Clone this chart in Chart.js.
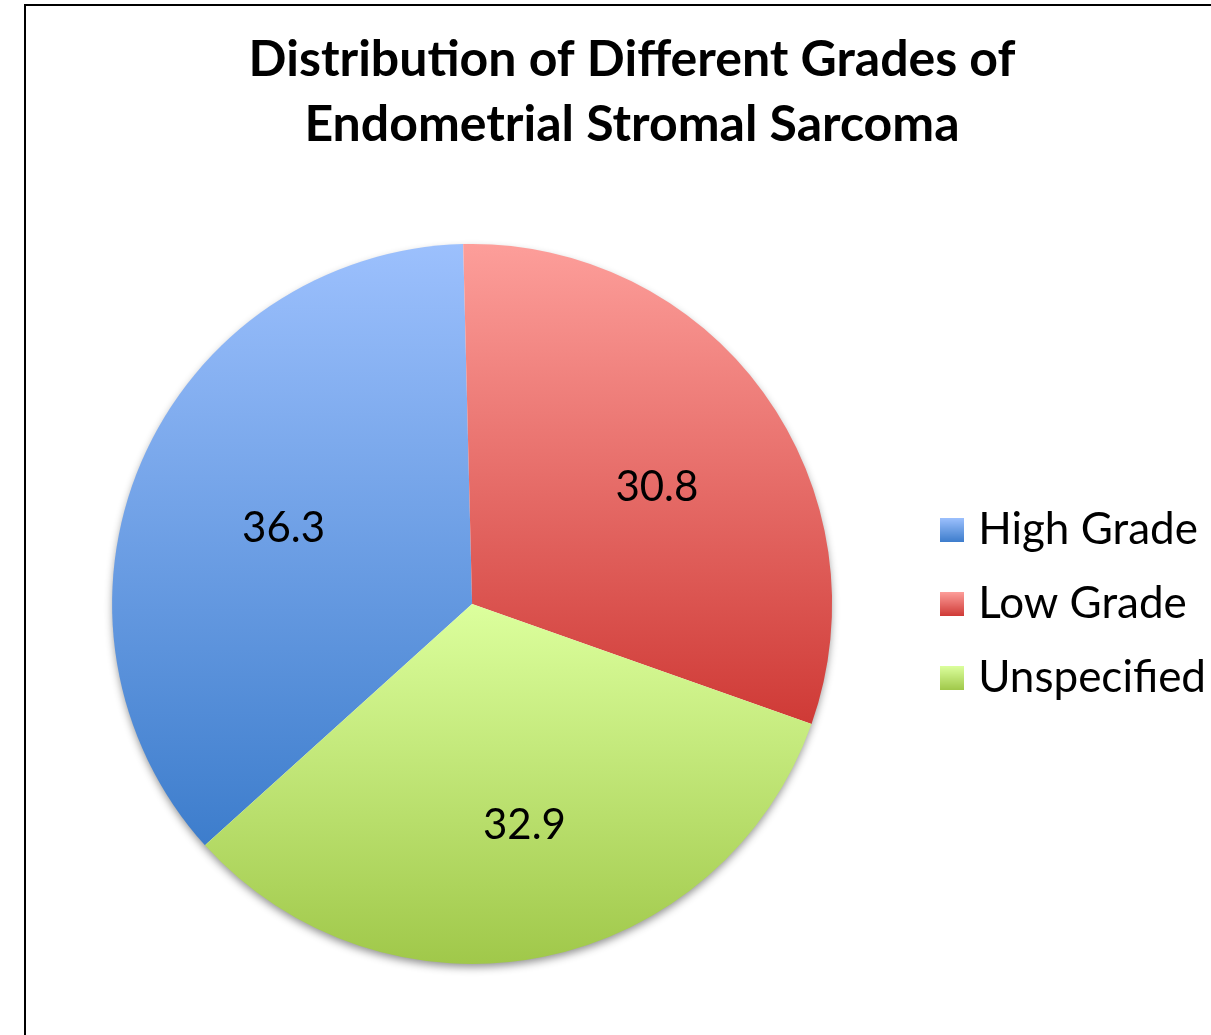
<!DOCTYPE html>
<html>
<head>
<meta charset="utf-8">
<script src="https://cdn.jsdelivr.net/npm/chart.js@4"></script>
<style>
  html, body { margin: 0; padding: 0; background: #fff; overflow: hidden; width: 1211px; height: 1035px; }
  #frame { position: absolute; left: 24px; top: 4px; width: 1212px; height: 1100px; border: 2px solid #000; background: #fff; }
  canvas { display: block; }
</style>
</head>
<body>
<div id="frame"><canvas id="chart" width="1212" height="1035"></canvas></div>
<script>
// Grades of endometrial stromal sarcoma (percent of cases)
const categories = ['High Grade', 'Low Grade', 'Unspecified'];
const shares = [36.3, 30.8, 32.9];

// Each slice is shaded from a light top to a deeper bottom
const topColors = ['#9cc0fd', '#fd9e9a', '#dcff9d'];
const bottomColors = ['#3d7dcc', '#cf3a36', '#a0c84a'];

// Low Grade begins just left of twelve o'clock; the first slice sits before it
const startAngleDeg = -132.1;

const FONT = 'Lato, Carlito, Calibri, "Open Sans", sans-serif';

function sliceGradient(ctx) {
  const chart = ctx.chart;
  const area = chart.chartArea;
  const i = ctx.dataIndex;
  if (!area) return topColors[i];
  const cx = (area.left + area.right) / 2;
  const cy = (area.top + area.bottom) / 2;
  const r = Math.min(area.width, area.height) / 2;
  const total = shares.reduce((a, b) => a + b, 0);
  let a0 = startAngleDeg * Math.PI / 180 - Math.PI / 2;
  for (let k = 0; k < i; k++) a0 += shares[k] / total * 2 * Math.PI;
  const a1 = a0 + shares[i] / total * 2 * Math.PI;
  let minY = cy, maxY = cy;
  for (let t = 0; t <= 90; t++) {
    const y = cy + r * Math.sin(a0 + (a1 - a0) * t / 90);
    minY = Math.min(minY, y);
    maxY = Math.max(maxY, y);
  }
  const g = chart.ctx.createLinearGradient(0, minY, 0, maxY);
  g.addColorStop(0, topColors[i]);
  g.addColorStop(1, bottomColors[i]);
  return g;
}

function legendSwatch(i, size) {
  const c = document.createElement('canvas');
  c.width = size; c.height = size;
  const x = c.getContext('2d');
  const g = x.createLinearGradient(0, 0, 0, size);
  g.addColorStop(0, topColors[i]);
  g.addColorStop(1, bottomColors[i]);
  x.fillStyle = g;
  x.fillRect(0, 0, size, size);
  return c;
}

// Empty margin on the right edge of the chart, outside the legend
const rightMargin = {
  id: 'rightMargin',
  beforeInit(chart) {
    Chart.layouts.addBox(chart, {
      position: 'right',
      weight: 2000,
      fullSize: false,
      options: { stackWeight: 1 },
      left: 0, top: 0, right: 0, bottom: 0, width: 0, height: 0,
      isHorizontal() { return false; },
      update(maxWidth, maxHeight) { this.width = 22; this.height = maxHeight; },
      draw() {}
    });
  }
};

// Soft drop shadow under the whole pie
const pieShadow = {
  id: 'pieShadow',
  beforeDatasetsDraw(chart) {
    const arc = chart.getDatasetMeta(0).data[0];
    if (!arc) return;
    const { x, y, outerRadius } = arc.getProps(['x', 'y', 'outerRadius'], true);
    const ctx = chart.ctx;
    ctx.save();
    ctx.shadowColor = 'rgba(0,0,0,0.45)';
    ctx.shadowBlur = 9;
    ctx.shadowOffsetY = 4;
    ctx.beginPath();
    ctx.arc(x, y, outerRadius - 1, 0, Math.PI * 2);
    ctx.fillStyle = '#fff';
    ctx.fill();
    ctx.restore();
  }
};

// Value labels inside each slice
const labelNudge = 10;
const sliceValues = {
  id: 'sliceValues',
  afterDatasetsDraw(chart) {
    const ctx = chart.ctx;
    const meta = chart.getDatasetMeta(0);
    ctx.save();
    ctx.font = '42px ' + FONT;
    ctx.fillStyle = '#000';
    ctx.textAlign = 'center';
    ctx.textBaseline = 'middle';
    meta.data.forEach((arc, i) => {
      const p = arc.getProps(['x', 'y', 'startAngle', 'endAngle', 'outerRadius'], true);
      const mid = (p.startAngle + p.endAngle) / 2;
      const d = p.outerRadius * 0.6;
      ctx.fillText(shares[i].toFixed(1),
        p.x + Math.cos(mid) * d + labelNudge,
        p.y + Math.sin(mid) * d + labelNudge);
    });
    ctx.restore();
  }
};

new Chart(document.getElementById('chart'), {
  type: 'pie',
  data: {
    labels: categories,
    datasets: [{
      data: shares,
      backgroundColor: sliceGradient,
      borderWidth: 0,
      hoverBorderWidth: 0,
      hoverOffset: 0,
      offset: 0
    }]
  },
  options: {
    responsive: false,
    animation: false,
    rotation: startAngleDeg,
    layout: { padding: { left: 0, right: 0, top: 0, bottom: 77 } },
    plugins: {
      title: {
        display: true,
        text: ['Distribution of Different Grades of', 'Endometrial Stromal Sarcoma'],
        color: '#000',
        font: { family: FONT, size: 50, weight: 'bold', lineHeight: 65 / 50 },
        padding: { top: 21, bottom: 87 }
      },
      legend: {
        position: 'right',
        align: 'center',
        fullSize: false,
        labels: {
          color: '#000',
          font: { family: FONT, size: 44 },
          usePointStyle: true,
          pointStyleWidth: 8,
          boxWidth: 24,
          boxHeight: 24,
          padding: 30,
          generateLabels(chart) {
            return categories.map((name, i) => ({
              text: name,
              fillStyle: topColors[i],
              strokeStyle: 'rgba(0,0,0,0)',
              lineWidth: 0,
              pointStyle: legendSwatch(i, 24),
              hidden: false,
              index: i,
              datasetIndex: 0
            }));
          }
        }
      },
      tooltip: { enabled: false }
    }
  },
  plugins: [rightMargin, pieShadow, sliceValues]
});
</script>
</body>
</html>
